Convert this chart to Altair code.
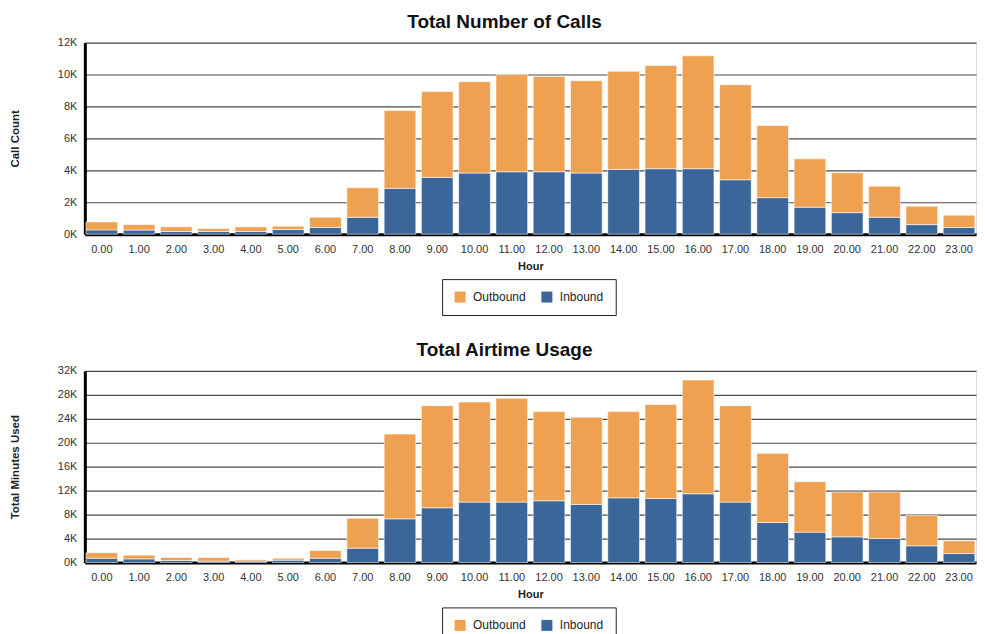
import altair as alt
import pandas as pd

hours = [f"{h}.00" for h in range(24)]

calls_inbound = [270, 260, 170, 170, 170, 290, 420, 1060, 2870, 3560, 3830, 3910,
                 3910, 3830, 4060, 4100, 4100, 3410, 2290, 1690, 1350, 1060, 600, 420]
calls_outbound = [500, 340, 290, 190, 290, 210, 640, 1850, 4870, 5370, 5720, 6080,
                  5970, 5780, 6140, 6470, 7070, 5950, 4510, 3030, 2500, 1950, 1150, 770]

air_inbound = [720, 610, 330, 220, 220, 390, 720, 2400, 7300, 9140, 10090, 10090,
               10310, 9700, 10810, 10700, 11480, 10090, 6690, 5070, 4290, 4010, 2790, 1500]
air_outbound = [900, 620, 510, 620, 230, 330, 1280, 5010, 14160, 17060, 16710, 17330,
                14890, 14550, 14390, 15670, 19010, 16110, 11540, 8420, 7470, 7750, 5070, 2120]

series = ["Outbound", "Inbound"]
colors = ["#EFA152", "#3B6699"]

calls_ticks = [0, 2000, 4000, 6000, 8000, 10000, 12000]
air_ticks = [0, 4000, 8000, 12000, 16000, 20000, 24000, 28000, 32000]


def make_df(inb, outb):
    rows = []
    for h, i, o in zip(hours, inb, outb):
        rows.append({"Hour": h, "Direction": "Inbound", "Value": i, "ord": 0})
        rows.append({"Hour": h, "Direction": "Outbound", "Value": o, "ord": 1})
    return pd.DataFrame(rows)


FONT = "Liberation Sans"


def panel(df, title, ytitle, ticks):
    return alt.Chart(df).mark_bar(stroke="white", strokeWidth=0.8, strokeOpacity=0.7).encode(
        x=alt.X("Hour:N", sort=hours, title="Hour",
                scale=alt.Scale(paddingInner=0.15, paddingOuter=0.03),
                axis=alt.Axis(labelAngle=0, ticks=False, labelPadding=9,
                              domainColor="black", domainWidth=3,
                              labelFont=FONT, labelFontSize=11, labelColor="#333",
                              titleFont=FONT, titleFontSize=11, titleFontWeight="bold",
                              titlePadding=6, titleColor="#222")),
        y=alt.Y("Value:Q", stack="zero", title=ytitle,
                scale=alt.Scale(domain=[ticks[0], ticks[-1]], nice=False),
                axis=alt.Axis(values=ticks, labelExpr="datum.value / 1000 + 'K'",
                              ticks=False, labelPadding=8, domainColor="black", domainWidth=3,
                              grid=True, gridColor="#4a4a4a", gridWidth=1.2,
                              labelFont=FONT, labelFontSize=11, labelColor="#333",
                              titleFont=FONT, titleFontSize=11.5, titleFontWeight="bold",
                              titlePadding=37, titleColor="#222")),
        color=alt.Color("Direction:N", scale=alt.Scale(domain=series, range=colors),
                        legend=alt.Legend(title=None, orient="none", legendX=358, legendY=237,
                                          direction="horizontal", symbolType="square",
                                          symbolSize=121, symbolStrokeWidth=0,
                                          labelFont=FONT, labelFontSize=12, labelColor="#222",
                                          labelOffset=7, columnPadding=15, padding=12,
                                          strokeColor="#222", gridAlign="all")),
        order=alt.Order("ord:Q", sort="ascending"),
    ).properties(
        width=893, height=192,
        title=alt.TitleParams(title, font=FONT, fontSize=19, fontWeight="bold",
                              anchor="middle", dx=-26, offset=5, color="#111"),
    )


top = panel(make_df(calls_inbound, calls_outbound), "Total Number of Calls", "Call Count", calls_ticks)
bottom = panel(make_df(air_inbound, air_outbound), "Total Airtime Usage", "Total Minutes Used", air_ticks)

chart = alt.vconcat(top, bottom, spacing=24).resolve_scale(color="independent").resolve_legend(
    color="independent"
).properties(padding={"top": 3, "left": 0, "right": 0, "bottom": 0}).configure_view(
    stroke=None).configure(background="white")

chart.save("out.html", embed_options={"renderer": "svg", "actions": False})
